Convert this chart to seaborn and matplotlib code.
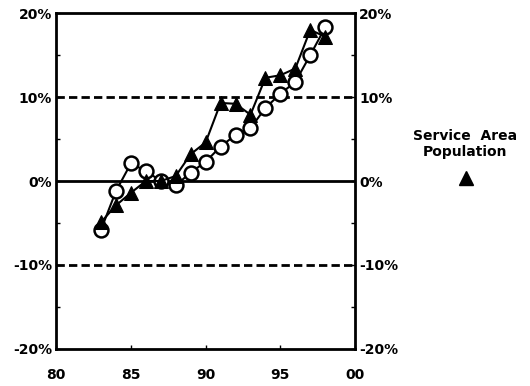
import pandas as pd
import seaborn as sns
import matplotlib.pyplot as plt

# years (19xx) and percent change values
years = [83, 84, 85, 86, 87, 88, 89, 90, 91, 92, 93, 94, 95, 96, 97, 98]
service_area_pop = [-4.9, -2.9, -1.4, 0.0, 0.0, 0.6, 3.2, 4.6, 9.3, 9.2, 7.9, 12.3, 12.6, 13.4, 18.0, 17.2]
other_series = [-5.8, -1.2, 2.1, 1.2, 0.0, -0.5, 1.0, 2.3, 4.1, 5.5, 6.3, 8.7, 10.4, 11.8, 15.0, 18.3]

y_ticks = [-20, -10, 0, 10, 20]
y_labels = ['-20%', '-10%', '0%', '10%', '20%']
x_ticks = [80, 85, 90, 95, 100]
x_labels = ['80', '85', '90', '95', '00']

df = pd.DataFrame({'year': years, 'pop': service_area_pop, 'other': other_series})

sns.set_style('white')
plt.rcParams['font.family'] = ['DejaVu Sans']
plt.rcParams['font.weight'] = 'bold'
plt.rcParams['text.color'] = 'black'
plt.rcParams['xtick.color'] = 'black'
plt.rcParams['ytick.color'] = 'black'

fig = plt.figure(figsize=(5.3, 3.86), dpi=100)
ax = fig.add_axes([0.106, 0.096, 0.564, 0.870])

# reference lines
ax.axhline(0, color='black', lw=2, zorder=1)
ax.axhline(10, color='black', lw=2, ls=(0, (3, 1.5)), zorder=1)
ax.axhline(-10, color='black', lw=2, ls=(0, (3, 1.5)), zorder=1)

sns.lineplot(data=df, x='year', y='other', ax=ax, color='black', lw=1.5,
             marker='o', markersize=10, markerfacecolor='white',
             markeredgecolor='black', markeredgewidth=1.8, zorder=3)
sns.lineplot(data=df, x='year', y='pop', ax=ax, color='black', lw=1.5,
             marker='^', markersize=10, markerfacecolor='black',
             markeredgecolor='black', zorder=4)

ax.set_xlim(80, 100)
ax.set_ylim(-20, 20)
ax.set_xticks(x_ticks)
ax.set_xticklabels(x_labels, fontsize=10, fontweight='bold')
ax.set_yticks(y_ticks)
ax.set_yticklabels(y_labels, fontsize=10, fontweight='bold')
ax.set_yticks([-15, -5, 5, 15], minor=True)
ax.tick_params(axis='both', which='both', direction='in', length=3, width=1,
               pad=3, right=True, labelright=True, bottom=True, left=True)
ax.tick_params(axis='x', pad=14)
ax.set_xlabel('')
ax.set_ylabel('')
for s in ax.spines.values():
    s.set_linewidth(2)
    s.set_color('black')

# legend-like annotation
fig.text(0.878, 0.627, 'Service  Area\nPopulation', ha='center', va='center',
         fontsize=10, fontweight='bold', linespacing=1.15)
fig.lines.append(plt.Line2D([0.88], [0.539], transform=fig.transFigure,
                            marker='^', markersize=10, color='black', ls='none'))

fig.savefig('out.png', dpi=100)
